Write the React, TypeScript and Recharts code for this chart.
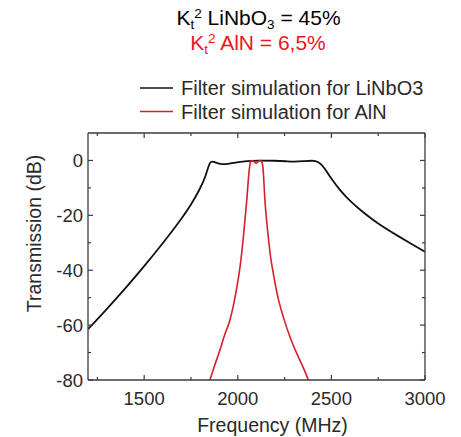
import React from 'react';
import { LineChart, Line, XAxis, YAxis } from 'recharts';

// LiNbO3 filter response (MHz, dB)
const freqLiNbO3 = [1200, 1300, 1400, 1500, 1600, 1700, 1750, 1800, 1830, 1852, 1870, 1900, 1932, 1970, 2000, 2050, 2100, 2200, 2260, 2300, 2350, 2400, 2430, 2460, 2500, 2550, 2600, 2670, 2760, 2850, 2930, 3000];
const dbLiNbO3 = [-61.5, -54.2, -46.6, -38.6, -30.2, -21.2, -16.2, -10.2, -5.5, 0, -0.5, -1.2, -1.5, -1.0, -0.6, -0.2, 0, -0.1, -0.3, -0.5, -0.3, 0, -0.4, -2.3, -6.8, -11.2, -14.8, -19.0, -23.6, -27.3, -30.5, -33.3];

// AlN filter response (MHz, dB)
const freqAlN = [1851, 1880, 1905, 1930, 1958, 1985, 2012, 2030, 2048, 2062, 2068, 2075, 2085, 2098, 2110, 2120, 2128, 2135, 2145, 2163, 2175, 2190, 2215, 2243, 2280, 2315, 2350, 2377];
const dbAlN = [-80, -74, -69, -63.5, -58.2, -50, -38.8, -27.9, -14.5, -3, -0.5, 0, -0.3, -1, -0.3, 0, -0.5, -3, -14.5, -27.9, -35, -41.2, -50, -57, -64.5, -70.3, -75.5, -80];

const xTicks = [1250, 1500, 1750, 2000, 2250, 2500, 2750, 3000];
const yTicks = [-80, -70, -60, -50, -40, -30, -20, -10, 0];

const dataLiNbO3 = freqLiNbO3.map((f, i) => ({ f, db: dbLiNbO3[i] }));
const dataAlN = freqAlN.map((f, i) => ({ f, db: dbAlN[i] }));

const FONT = 'Arial, "Liberation Sans", sans-serif';
const AXIS = '#3c3c3c';
const TEXT = '#2a2a2a';
const RED = '#d3202b';

const BottomTick = ({ x, y, payload }: any) => {
  const major = payload.value % 500 === 0;
  return (
    <g>
      <line x1={x} x2={x} y1={y} y2={y - (major ? 5 : 3)} stroke={AXIS} strokeWidth={1.2} />
      {major && (
        <text x={x} y={y + 25} textAnchor="middle" fontSize={18.5} fontFamily={FONT} fill={TEXT}>
          {payload.value}
        </text>
      )}
    </g>
  );
};

const TopTick = ({ x, y, payload }: any) => {
  const major = payload.value % 500 === 0;
  return <line x1={x} x2={x} y1={y} y2={y + (major ? 5 : 3)} stroke={AXIS} strokeWidth={1.2} />;
};

const LeftTick = ({ x, y, payload }: any) => {
  const major = payload.value % 20 === 0;
  return (
    <g>
      <line x1={x} x2={x + (major ? 5 : 3)} y1={y} y2={y} stroke={AXIS} strokeWidth={1.2} />
      {major && (
        <text x={x - 5} y={y} dy="0.36em" textAnchor="end" fontSize={18.5} fontFamily={FONT} fill={TEXT}>
          {payload.value}
        </text>
      )}
    </g>
  );
};

const RightTick = ({ x, y, payload }: any) => {
  const major = payload.value % 20 === 0;
  return <line x1={x} x2={x - (major ? 5 : 3)} y1={y} y2={y} stroke={AXIS} strokeWidth={1.2} />;
};

export default function App() {
  return (
    <div style={{ position: 'absolute', left: 0, top: 0, width: 461, height: 437, background: '#fff' }}>
      <LineChart width={461} height={437} margin={{ top: 0, right: 0, bottom: 0, left: 0 }}>
        <XAxis
          xAxisId="b"
          dataKey="f"
          type="number"
          domain={[1200, 3000]}
          ticks={xTicks}
          allowDataOverflow
          height={57}
          tickSize={0}
          tickMargin={0}
          tick={<BottomTick />}
          stroke={AXIS}
          strokeWidth={1.3}
          interval={0}
        />
        <XAxis
          xAxisId="t"
          orientation="top"
          dataKey="f"
          type="number"
          domain={[1200, 3000]}
          ticks={xTicks}
          allowDataOverflow
          height={133}
          tickSize={0}
          tickMargin={0}
          tick={<TopTick />}
          stroke={AXIS}
          strokeWidth={1.3}
          interval={0}
        />
        <YAxis
          yAxisId="l"
          type="number"
          domain={[-80, 10]}
          ticks={yTicks}
          allowDataOverflow
          width={88}
          tickSize={0}
          tickMargin={0}
          tick={<LeftTick />}
          stroke={AXIS}
          strokeWidth={1.3}
          interval={0}
        />
        <YAxis
          yAxisId="r"
          orientation="right"
          type="number"
          domain={[-80, 10]}
          ticks={yTicks}
          allowDataOverflow
          width={36}
          tickSize={0}
          tickMargin={0}
          tick={<RightTick />}
          stroke={AXIS}
          strokeWidth={1.3}
          interval={0}
        />
        <Line
          xAxisId="b"
          yAxisId="l"
          data={dataLiNbO3}
          dataKey="db"
          type="basis"
          stroke="#111"
          strokeWidth={1.8}
          dot={false}
          isAnimationActive={false}
        />
        <Line
          xAxisId="t"
          yAxisId="r"
          data={dataAlN}
          dataKey="db"
          type="monotone"
          stroke={RED}
          strokeWidth={1.6}
          dot={false}
          isAnimationActive={false}
        />
      </LineChart>
      <svg
        width={461}
        height={437}
        style={{ position: 'absolute', left: 0, top: 0, pointerEvents: 'none' }}
        fontFamily={FONT}
      >
        <text x={258.5} y={25} textAnchor="middle" fontSize={21} fill="#000">
          K<tspan fontSize={13.5} dy={4}>t</tspan>
          <tspan fontSize={13.5} dy={-11.5}>2</tspan>
          <tspan fontSize={21} dy={7.5}> LiNbO</tspan>
          <tspan fontSize={13.5} dy={4}>3</tspan>
          <tspan fontSize={21} dy={-4}> = 45%</tspan>
        </text>
        <text x={258} y={50} textAnchor="middle" fontSize={21} fill="#f0141c">
          K<tspan fontSize={13.5} dy={4}>t</tspan>
          <tspan fontSize={13.5} dy={-11.5}>2</tspan>
          <tspan fontSize={21} dy={7.5}> AlN = 6,5%</tspan>
        </text>
        <line x1={140} x2={173} y1={88} y2={88} stroke="#111" strokeWidth={1.5} />
        <text x={181} y={95} fontSize={20} fill={TEXT}>Filter simulation for LiNbO3</text>
        <line x1={140} x2={173} y1={111.5} y2={111.5} stroke={RED} strokeWidth={1.5} />
        <text x={181} y={118.5} fontSize={20} fill={TEXT}>Filter simulation for AlN</text>
        <text
          x={33.5}
          y={233.5}
          dy="0.36em"
          textAnchor="middle"
          fontSize={19.5}
          fill={TEXT}
          transform="rotate(-90 33.5 233.5)"
        >
          Transmission (dB)
        </text>
        <text x={272.5} y={431.5} textAnchor="middle" fontSize={19.5} fill={TEXT}>
          Frequency (MHz)
        </text>
      </svg>
    </div>
  );
}
